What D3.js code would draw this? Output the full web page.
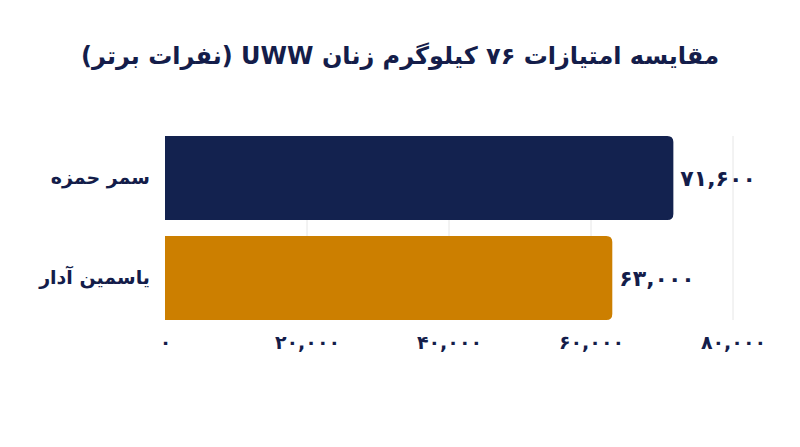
<!DOCTYPE html>
<html>
<head>
<meta charset="utf-8">
<script src="https://cdn.jsdelivr.net/npm/d3@7"></script>
<style>
  body { margin: 0; background: #fff; }
  svg text { font-family: "DejaVu Sans", sans-serif; font-weight: bold; fill: #141d4a; }
</style>
</head>
<body>
<svg id="chart"></svg>
<script>
var title = "مقایسه امتیازات ۷۶ کیلوگرم زنان UWW (نفرات برتر)";
var names = ["سمر حمزه", "یاسمین آدار"];
var scores = [71600, 63000];
var barColors = ["#13224f", "#cc7f00"];
var tickValues = [0, 20000, 40000, 60000, 80000];

var width = 800, height = 447;
var margin = {top: 136, right: 67, bottom: 127, left: 165};

// persian digits with latin comma, like the original
function fa(n) {
  return d3.format(",")(n).replace(/\d/g, function (d) { return "۰۱۲۳۴۵۶۷۸۹"[+d]; });
}

var svg = d3.select("#chart")
  .attr("width", width)
  .attr("height", height);

var x = d3.scaleLinear()
  .domain([0, 80000])
  .range([margin.left, width - margin.right]);

var y = d3.scaleBand()
  .domain(names)
  .range([margin.top, height - margin.bottom])
  .paddingInner(0.16)
  .paddingOuter(0);

svg.append("text")
  .attr("x", width / 2)
  .attr("y", 64)
  .attr("text-anchor", "middle")
  .attr("direction", "rtl")
  .style("font-size", "24px")
  .text(title);

// grid
svg.append("g")
  .selectAll("line")
  .data(tickValues.slice(1))
  .join("line")
    .attr("x1", function (d) { return x(d); })
    .attr("x2", function (d) { return x(d); })
    .attr("y1", margin.top)
    .attr("y2", height - margin.bottom)
    .style("stroke", "#e6e6e6")
    .style("stroke-width", 1);

var xAxis = svg.append("g")
  .attr("transform", "translate(0," + (height - margin.bottom) + ")")
  .call(d3.axisBottom(x).tickValues(tickValues).tickFormat(fa).tickSize(0).tickPadding(16));
xAxis.select(".domain").remove();
xAxis.selectAll("text")
  .style("font-size", "19px")
  .style("font-family", "'DejaVu Sans', sans-serif")
  .style("fill", "#141d4a");

var yAxis = svg.append("g")
  .attr("transform", "translate(" + (margin.left - 15) + ",0)")
  .call(d3.axisLeft(y).tickSize(0).tickPadding(0));
yAxis.select(".domain").remove();
yAxis.selectAll("text")
  .style("font-size", "19px")
  .style("font-family", "'DejaVu Sans', sans-serif")
  .style("fill", "#141d4a");

var r = 6;
function barPath(i) {
  var x0 = x(0), x1 = x(scores[i]), y0 = y(names[i]), h = y.bandwidth();
  return "M" + x0 + "," + y0 +
    "H" + (x1 - r) +
    "Q" + x1 + "," + y0 + " " + x1 + "," + (y0 + r) +
    "V" + (y0 + h - r) +
    "Q" + x1 + "," + (y0 + h) + " " + (x1 - r) + "," + (y0 + h) +
    "H" + x0 + "Z";
}

svg.append("g")
  .selectAll("path")
  .data(names)
  .join("path")
    .attr("d", function (d, i) { return barPath(i); })
    .style("fill", function (d, i) { return barColors[i]; });

svg.append("g")
  .selectAll("text")
  .data(names)
  .join("text")
    .attr("x", function (d, i) { return x(scores[i]) + 7; })
    .attr("y", function (d) { return y(d) + y.bandwidth() / 2; })
    .attr("dy", "0.35em")
    .style("font-size", "22px")
    .text(function (d, i) { return fa(scores[i]); });
</script>
</body>
</html>
